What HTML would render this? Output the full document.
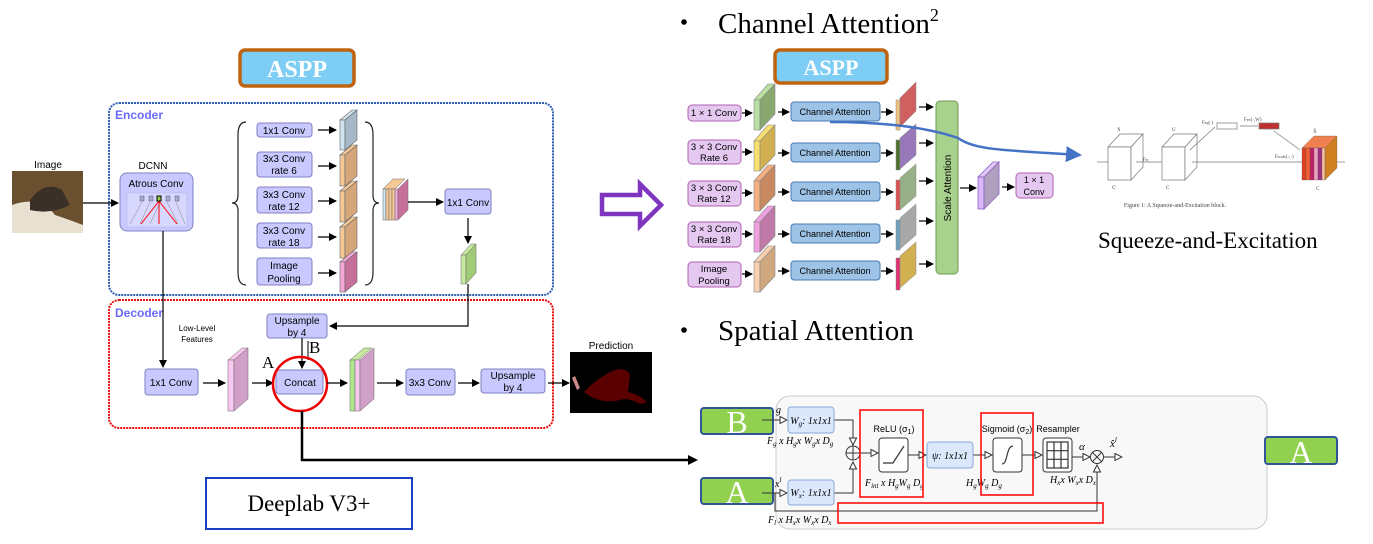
<!DOCTYPE html>
<html><head><meta charset="utf-8"><style>
html,body{margin:0;padding:0;background:#fff;}
svg{display:block;}
.s{font-family:"Liberation Sans",sans-serif;}
.r{font-family:"Liberation Serif",serif;}
</style></head><body>
<svg width="1373" height="544" viewBox="0 0 1373 544" xmlns="http://www.w3.org/2000/svg">
<defs>
<marker id="ar" markerWidth="8" markerHeight="8" refX="7" refY="4" orient="auto" markerUnits="userSpaceOnUse"><path d="M0,0 L8,4 L0,8z" fill="#000"/></marker>
<marker id="ab" markerWidth="16" markerHeight="16" refX="14" refY="8" orient="auto" markerUnits="userSpaceOnUse"><path d="M0,0 L16,8 L0,16z" fill="#4472c4"/></marker>
<marker id="ao" markerWidth="9" markerHeight="9" refX="8" refY="4.5" orient="auto" markerUnits="userSpaceOnUse"><path d="M1,1 L8,4.5 L1,8z" fill="#fff" stroke="#333" stroke-width="1"/></marker>
</defs>

<rect x="240" y="50" width="114" height="36" rx="5" fill="#7dcdf5" stroke="#c0630f" stroke-width="3.5"/>
<text x="297" y="77" text-anchor="middle" class="r" font-size="24" font-weight="bold" fill="#fff">ASPP</text>

<rect x="109" y="103" width="444" height="192" rx="10" fill="none" stroke="#2f5fb0" stroke-width="2" stroke-dasharray="2,1"/>
<text x="115" y="119" class="s" font-size="12" font-weight="bold" fill="#6a6aff">Encoder</text>
<rect x="109" y="300" width="444" height="128" rx="10" fill="none" stroke="#e81010" stroke-width="2" stroke-dasharray="2,1"/>
<text x="115" y="317" class="s" font-size="12" font-weight="bold" fill="#6a6aff">Decoder</text>

<text x="48" y="168" text-anchor="middle" class="s" font-size="10">Image</text>
<rect x="12" y="171" width="71" height="62" fill="#6b5030"/>
<path d="M12,205 Q40,195 55,215 Q70,220 83,225 L83,233 L12,233z" fill="#e8e0d0"/>
<path d="M30,200 Q45,180 62,190 L70,205 Q50,215 30,210z" fill="#3a3028"/>
<line x1="83" y1="203" x2="118" y2="203" stroke="#000" stroke-width="1.3" marker-end="url(#ar)"/>
<text x="153" y="169" text-anchor="middle" class="s" font-size="10">DCNN</text>
<rect x="120" y="173" width="73" height="58" rx="7" fill="#c9c9ff" stroke="#8080c0"/>
<text x="156" y="187" text-anchor="middle" class="s" font-size="10">Atrous Conv</text>
<rect x="127" y="193" width="60" height="34" fill="#d8d8ff" stroke="#b0b0e0" stroke-width="0.5"/>
<g stroke="#999" stroke-width="0.6">
<line x1="142" y1="202" x2="130" y2="224"/><line x1="150" y1="202" x2="140" y2="224"/><line x1="160" y1="202" x2="150" y2="224"/><line x1="167" y1="202" x2="178" y2="224"/><line x1="176" y1="202" x2="185" y2="224"/>
</g>
<g stroke="#f00" stroke-width="1"><line x1="159" y1="201" x2="141" y2="224"/><line x1="159" y1="201" x2="159" y2="224"/><line x1="159" y1="201" x2="177" y2="224"/></g>
<g fill="#aac" stroke="#558" stroke-width="0.5"><rect x="140" y="196" width="4" height="5"/><rect x="149" y="196" width="4" height="5"/><rect x="166" y="196" width="4" height="5"/><rect x="175" y="196" width="4" height="5"/></g>
<rect x="157" y="196" width="4" height="5" fill="#9c4" stroke="#000"/>

<path d="M246,122 Q238,122 238,135 L238,195 Q238,203 232,203 Q238,203 238,211 L238,272 Q238,285 246,285" fill="none" stroke="#222" stroke-width="1.2"/>
<path d="M365,122 Q373,122 373,135 L373,195 Q373,203 379,203 Q373,203 373,211 L373,272 Q373,285 365,285" fill="none" stroke="#222" stroke-width="1.2"/>
<g class="s" font-size="10" text-anchor="middle" fill="#000">
<rect x="257" y="123" width="55" height="14" rx="3" fill="#c9c9ff" stroke="#8080c0"/><text x="284" y="134">1x1 Conv</text>
<rect x="257" y="152" width="55" height="25" rx="3" fill="#c9c9ff" stroke="#8080c0"/><text x="284" y="162">3x3 Conv</text><text x="284" y="174">rate 6</text>
<rect x="257" y="187" width="55" height="26" rx="3" fill="#c9c9ff" stroke="#8080c0"/><text x="284" y="198">3x3 Conv</text><text x="284" y="210">rate 12</text>
<rect x="257" y="223" width="55" height="25" rx="3" fill="#c9c9ff" stroke="#8080c0"/><text x="284" y="234">3x3 Conv</text><text x="284" y="246">rate 18</text>
<rect x="257" y="258" width="55" height="27" rx="3" fill="#c9c9ff" stroke="#8080c0"/><text x="284" y="269">Image</text><text x="284" y="282">Pooling</text>
</g>
<g stroke="#000" stroke-width="1.2">
<line x1="318" y1="130" x2="336" y2="130" marker-end="url(#ar)"/>
<line x1="318" y1="166" x2="336" y2="166" marker-end="url(#ar)"/>
<line x1="318" y1="201" x2="336" y2="201" marker-end="url(#ar)"/>
<line x1="318" y1="237" x2="336" y2="237" marker-end="url(#ar)"/>
<line x1="318" y1="273" x2="336" y2="273" marker-end="url(#ar)"/>
</g>
<g stroke="#666" stroke-width="0.6">
<path d="M340,120 L352,110 L357,110 L345,120z" fill="#cfe3f0"/><rect x="340" y="120" width="5" height="30" fill="#cfe3f0"/><path d="M345,120 L357,110 L357,140 L345,150z" fill="#a7b8c8"/>
<path d="M340,155 L352,145 L357,145 L345,155z" fill="#f5c896"/><rect x="340" y="155" width="5" height="31" fill="#f5c896"/><path d="M345,155 L357,145 L357,176 L345,186z" fill="#d4a67a"/>
<path d="M340,191 L352,181 L357,181 L345,191z" fill="#f5c896"/><rect x="340" y="191" width="5" height="31" fill="#f5c896"/><path d="M345,191 L357,181 L357,212 L345,222z" fill="#d4a67a"/>
<path d="M340,227 L352,217 L357,217 L345,227z" fill="#f5c896"/><rect x="340" y="227" width="5" height="31" fill="#f5c896"/><path d="M345,227 L357,217 L357,248 L345,258z" fill="#d4a67a"/>
<path d="M340,262 L352,252 L357,252 L345,262z" fill="#f4a8d8"/><rect x="340" y="262" width="5" height="30" fill="#f4a8d8"/><path d="M345,262 L357,252 L357,282 L345,292z" fill="#c8709c"/>
</g>
<g stroke="#666" stroke-width="0.5">
<path d="M383,189 L393,179 L405,179 L395,189z" fill="#f5c896"/>
<rect x="383" y="189" width="3" height="31" fill="#cfe3f0"/><rect x="386" y="189" width="3" height="31" fill="#f5c896"/><rect x="389" y="189" width="3" height="31" fill="#f5c896"/><rect x="392" y="189" width="3" height="31" fill="#f5c896"/><rect x="395" y="189" width="3" height="31" fill="#f4a8d8"/>
<path d="M398,189 L408,179 L408,210 L398,220z" fill="#c8709c"/>
</g>
<line x1="408" y1="202" x2="443" y2="202" stroke="#000" stroke-width="1.2" marker-end="url(#ar)"/>
<rect x="445" y="189" width="46" height="25" rx="3" fill="#c9c9ff" stroke="#8080c0"/>
<text x="468" y="206" text-anchor="middle" class="s" font-size="10">1x1 Conv</text>
<line x1="468" y1="218" x2="468" y2="243" stroke="#000" stroke-width="1.2" marker-end="url(#ar)"/>
<g stroke="#666" stroke-width="0.5"><path d="M461,255 L471,244 L476,244 L466,255z" fill="#c8e8a0"/><rect x="461" y="255" width="5" height="29" fill="#c8e8a0"/><path d="M466,255 L476,244 L476,273 L466,284z" fill="#a0cc78"/></g>
<polyline points="468,284 468,326 330,326" fill="none" stroke="#000" stroke-width="1.2" marker-end="url(#ar)"/>
<line x1="163" y1="231" x2="163" y2="367" stroke="#000" stroke-width="1.2" marker-end="url(#ar)"/>
<text x="197" y="331" text-anchor="middle" class="s" font-size="8">Low-Level</text>
<text x="197" y="342" text-anchor="middle" class="s" font-size="8">Features</text>
<rect x="267" y="314" width="60" height="24" rx="3" fill="#c9c9ff" stroke="#8080c0"/>
<text x="297" y="324" text-anchor="middle" class="s" font-size="10">Upsample</text>
<text x="297" y="336" text-anchor="middle" class="s" font-size="10">by 4</text>
<line x1="302" y1="338" x2="302" y2="368" stroke="#000" stroke-width="1.2" marker-end="url(#ar)"/>
<line x1="308" y1="341" x2="308" y2="360" stroke="#000" stroke-width="1"/>
<rect x="145" y="369" width="53" height="26" rx="3" fill="#c9c9ff" stroke="#8080c0"/>
<text x="171" y="386" text-anchor="middle" class="s" font-size="10">1x1 Conv</text>
<line x1="203" y1="383" x2="225" y2="383" stroke="#000" stroke-width="1.2" marker-end="url(#ar)"/>
<g stroke="#666" stroke-width="0.5"><path d="M228,360 L242,348 L248,348 L234,360z" fill="#f8c8f0"/><rect x="228" y="360" width="6" height="51" fill="#f8c8f0"/><path d="M234,360 L248,348 L248,399 L234,411z" fill="#d0a0c8"/></g>
<line x1="252" y1="383" x2="273" y2="383" stroke="#000" stroke-width="1.2" marker-end="url(#ar)"/>
<text x="262" y="368" class="r" font-size="17">A</text>
<text x="309" y="353" class="r" font-size="17">B</text>
<rect x="276" y="370" width="47" height="24" rx="3" fill="#c9c9ff" stroke="#8080c0"/>
<text x="300" y="386" text-anchor="middle" class="s" font-size="10">Concat</text>
<circle cx="300" cy="384" r="27" fill="none" stroke="#e00" stroke-width="2.5"/>
<line x1="327" y1="383" x2="347" y2="383" stroke="#000" stroke-width="1.2" marker-end="url(#ar)"/>
<g stroke="#666" stroke-width="0.5"><path d="M350,360 L364,348 L372,348 L358,360z" fill="#c8e8a0"/><rect x="350" y="360" width="5" height="51" fill="#b0e890"/><rect x="355" y="360" width="5" height="51" fill="#f8c8f0"/><path d="M360,360 L374,348 L374,399 L360,411z" fill="#d0a0c8"/></g>
<line x1="377" y1="383" x2="403" y2="383" stroke="#000" stroke-width="1.2" marker-end="url(#ar)"/>
<rect x="406" y="369" width="49" height="26" rx="3" fill="#c9c9ff" stroke="#8080c0"/>
<text x="430" y="386" text-anchor="middle" class="s" font-size="10">3x3 Conv</text>
<line x1="458" y1="383" x2="479" y2="383" stroke="#000" stroke-width="1.2" marker-end="url(#ar)"/>
<rect x="481" y="369" width="64" height="24" rx="3" fill="#c9c9ff" stroke="#8080c0"/>
<text x="513" y="379" text-anchor="middle" class="s" font-size="10">Upsample</text>
<text x="513" y="391" text-anchor="middle" class="s" font-size="10">by 4</text>
<line x1="548" y1="383" x2="569" y2="383" stroke="#000" stroke-width="1.2" marker-end="url(#ar)"/>
<text x="611" y="349" text-anchor="middle" class="s" font-size="10">Prediction</text>
<rect x="570" y="352" width="82" height="61" fill="#000"/>
<path d="M584,392 Q595,380 610,372 Q625,365 630,375 L628,392 Q640,395 647,402 L640,404 Q628,397 620,400 Q600,405 584,392z" fill="#5a0000"/>
<path d="M572,378 L575,376 L580,388 L577,390z" fill="#c88"/>
<polyline points="302,411 302,460 690,460" fill="none" stroke="#000" stroke-width="2.5"/>
<path d="M688,455 L698,460 L688,465z" fill="#000"/>
<rect x="206" y="478" width="206" height="51" fill="#fff" stroke="#1a3fc0" stroke-width="2"/>
<text x="309" y="511" text-anchor="middle" class="r" font-size="23">Deeplab V3+</text>

<path d="M602,195 L640,195 L640,184 L661,205 L640,226 L640,214 L602,214z" fill="#fff" stroke="#7f35c0" stroke-width="4.5" stroke-linejoin="miter"/>

<circle cx="684" cy="22" r="2.8" fill="#000"/>
<text x="718" y="33" class="r" font-size="29">Channel Attention<tspan font-size="18" dy="-12">2</tspan></text>
<rect x="775" y="50" width="112" height="33" rx="5" fill="#7dcdf5" stroke="#c0630f" stroke-width="3.5"/>
<text x="831" y="75" text-anchor="middle" class="r" font-size="22" font-weight="bold" fill="#fff">ASPP</text>
<g class="s" font-size="9.5" text-anchor="middle" fill="#000">
<rect x="688" y="105" width="53" height="16" rx="4" fill="#e4c8f0" stroke="#b060b0"/><text x="714" y="116">1 × 1 Conv</text>
<rect x="688" y="140" width="53" height="24" rx="4" fill="#e4c8f0" stroke="#b060b0"/><text x="714" y="150">3 × 3 Conv</text><text x="714" y="161">Rate 6</text>
<rect x="688" y="181" width="53" height="25" rx="4" fill="#e4c8f0" stroke="#b060b0"/><text x="714" y="191">3 × 3 Conv</text><text x="714" y="202">Rate 12</text>
<rect x="688" y="222" width="53" height="25" rx="4" fill="#e4c8f0" stroke="#b060b0"/><text x="714" y="232">3 × 3 Conv</text><text x="714" y="243">Rate 18</text>
<rect x="688" y="262" width="53" height="25" rx="4" fill="#e4c8f0" stroke="#b060b0"/><text x="714" y="272">Image</text><text x="714" y="284">Pooling</text>
</g>
<g stroke="#888" stroke-width="0.6">
<path d="M754,100 L768,84 L775,84 L760,100z" fill="#b8e0a0"/><rect x="754" y="100" width="6" height="30" fill="#b8e0a0"/><path d="M760,100 L775,84 L775,114 L760,130z" fill="#88a870"/>
<path d="M754,141 L768,125 L775,125 L760,141z" fill="#f8e070"/><rect x="754" y="141" width="6" height="30" fill="#f8e070"/><path d="M760,141 L775,125 L775,155 L760,171z" fill="#d0b050"/>
<path d="M754,181 L768,165 L775,165 L760,181z" fill="#f8b080"/><rect x="754" y="181" width="6" height="30" fill="#f8b080"/><path d="M760,181 L775,165 L775,195 L760,211z" fill="#c88860"/>
<path d="M754,222 L768,206 L775,206 L760,222z" fill="#f0a0e0"/><rect x="754" y="222" width="6" height="30" fill="#f0a0e0"/><path d="M760,222 L775,206 L775,236 L760,252z" fill="#c078a8"/>
<path d="M754,262 L768,246 L775,246 L760,262z" fill="#f8d0b0"/><rect x="754" y="262" width="6" height="30" fill="#f8d0b0"/><path d="M760,262 L775,246 L775,276 L760,292z" fill="#d0a880"/>
</g>
<g stroke="#000" stroke-width="1.2">
<line x1="742" y1="113" x2="752" y2="113" marker-end="url(#ar)"/><line x1="742" y1="152" x2="752" y2="152" marker-end="url(#ar)"/><line x1="742" y1="193" x2="752" y2="193" marker-end="url(#ar)"/><line x1="742" y1="234" x2="752" y2="234" marker-end="url(#ar)"/><line x1="742" y1="274" x2="752" y2="274" marker-end="url(#ar)"/>
<line x1="778" y1="112" x2="789" y2="112" marker-end="url(#ar)"/><line x1="778" y1="153" x2="789" y2="153" marker-end="url(#ar)"/><line x1="778" y1="192" x2="789" y2="192" marker-end="url(#ar)"/><line x1="778" y1="234" x2="789" y2="234" marker-end="url(#ar)"/><line x1="778" y1="271" x2="789" y2="271" marker-end="url(#ar)"/>
<line x1="881" y1="112" x2="893" y2="112" marker-end="url(#ar)"/><line x1="881" y1="153" x2="893" y2="153" marker-end="url(#ar)"/><line x1="881" y1="192" x2="893" y2="192" marker-end="url(#ar)"/><line x1="881" y1="234" x2="893" y2="234" marker-end="url(#ar)"/><line x1="881" y1="271" x2="893" y2="271" marker-end="url(#ar)"/>
<line x1="919" y1="107" x2="933" y2="107" marker-end="url(#ar)"/><line x1="919" y1="143" x2="933" y2="143" marker-end="url(#ar)"/><line x1="919" y1="181" x2="933" y2="181" marker-end="url(#ar)"/><line x1="919" y1="221" x2="933" y2="221" marker-end="url(#ar)"/><line x1="919" y1="264" x2="933" y2="264" marker-end="url(#ar)"/>
<line x1="960" y1="188" x2="976" y2="188" marker-end="url(#ar)"/><line x1="1002" y1="187" x2="1014" y2="187" marker-end="url(#ar)"/>
</g>
<g class="s" font-size="9" text-anchor="middle">
<rect x="791" y="102" width="89" height="19" rx="3" fill="#9dc3e6" stroke="#4a7ab0"/><text x="835" y="115">Channel Attention</text>
<rect x="791" y="143" width="89" height="19" rx="3" fill="#9dc3e6" stroke="#4a7ab0"/><text x="835" y="156">Channel Attention</text>
<rect x="791" y="182" width="89" height="19" rx="3" fill="#9dc3e6" stroke="#4a7ab0"/><text x="835" y="195">Channel Attention</text>
<rect x="791" y="224" width="89" height="19" rx="3" fill="#9dc3e6" stroke="#4a7ab0"/><text x="835" y="237">Channel Attention</text>
<rect x="791" y="261" width="89" height="19" rx="3" fill="#9dc3e6" stroke="#4a7ab0"/><text x="835" y="274">Channel Attention</text>
</g>
<g stroke="#888" stroke-width="0.5">
<rect x="896" y="100" width="4" height="30" fill="#f0c080"/><path d="M900,98 L916,82 L916,111 L900,127z" fill="#d06060"/>
<rect x="896" y="140" width="4" height="30" fill="#507030"/><path d="M900,138 L916,124 L916,155 L900,169z" fill="#9878b8"/>
<rect x="896" y="180" width="4" height="30" fill="#e05050"/><path d="M900,178 L916,164 L916,196 L900,210z" fill="#98b088"/>
<rect x="896" y="220" width="4" height="30" fill="#70a0c0"/><path d="M900,218 L916,204 L916,235 L900,249z" fill="#a8a8a8"/>
<rect x="896" y="258" width="4" height="32" fill="#e03070"/><path d="M900,256 L916,242 L916,274 L900,288z" fill="#d0b050"/>
</g>
<rect x="936" y="101" width="22" height="173" rx="4" fill="#a9d18e" stroke="#6a9a50"/>
<text transform="translate(951,188) rotate(-90)" text-anchor="middle" class="s" font-size="10">Scale Attention</text>
<g stroke="#9060c0" stroke-width="0.8"><path d="M978,177 L993,162 L999,162 L984,177z" fill="#e0c8f8"/><rect x="978" y="177" width="6" height="32" fill="#d8b8f8"/><path d="M984,177 L999,162 L999,194 L984,209z" fill="#b0a0c0"/></g>
<rect x="1016" y="173" width="37" height="25" rx="4" fill="#e4c8f0" stroke="#b060b0"/>
<text x="1034" y="183" text-anchor="middle" class="s" font-size="9">1 × 1</text>
<text x="1034" y="195" text-anchor="middle" class="s" font-size="9">Conv</text>
<path d="M830,122 C870,122 920,125 958,138 C975,150 1000,150 1080,155" fill="none" stroke="#4472c4" stroke-width="2.5" marker-end="url(#ab)"/>

<g stroke="#777" stroke-width="0.7" fill="#fff">
<line x1="1097" y1="162" x2="1108" y2="162"/>
<path d="M1108,147 L1120,134 L1143,134 L1131,147z"/><rect x="1108" y="147" width="23" height="33"/><path d="M1131,147 L1143,134 L1143,167 L1131,180z"/>
<line x1="1136" y1="162" x2="1162" y2="162"/>
<path d="M1162,147 L1174,134 L1197,134 L1185,147z"/><rect x="1162" y="147" width="23" height="33"/><path d="M1185,147 L1197,134 L1197,167 L1185,180z"/>
<line x1="1192" y1="162" x2="1302" y2="162"/>
<line x1="1190" y1="150" x2="1215" y2="127"/>
<rect x="1217" y="123" width="20" height="6"/>
<line x1="1240" y1="126" x2="1258" y2="126"/>
<rect x="1259" y="123" width="20" height="6" fill="#c03030"/>
<line x1="1274" y1="131" x2="1300" y2="150"/>
<line x1="1334" y1="162" x2="1345" y2="162"/>
</g>
<g stroke="#555" stroke-width="0.3">
<path d="M1302,148 L1314,136 L1337,136 L1325,148z" fill="#f08050"/>
<rect x="1302" y="148" width="4" height="32" fill="#e04020"/><rect x="1306" y="148" width="4" height="32" fill="#f06030"/><rect x="1310" y="148" width="4" height="32" fill="#c02060"/><rect x="1314" y="148" width="4" height="32" fill="#f0a0c0"/><rect x="1318" y="148" width="4" height="32" fill="#a03080"/><rect x="1322" y="148" width="3" height="32" fill="#f8c0a0"/>
<path d="M1325,148 L1337,136 L1337,168 L1325,180z" fill="#d08020"/>
</g>
<g class="r" font-size="5" fill="#444"><text x="1117" y="131">X</text><text x="1172" y="131">U</text><text x="1143" y="161">F<tspan font-size="4">tr</tspan></text><text x="1313" y="133">X̃</text><text x="1275" y="158">F<tspan font-size="4">scale</tspan>(·,·)</text><text x="1112" y="189">C'</text><text x="1166" y="189">C</text><text x="1316" y="190">C</text><text x="1202" y="124">F<tspan font-size="4">sq</tspan>(·)</text><text x="1244" y="121">F<tspan font-size="4">ex</tspan>(·,W)</text></g>
<text x="1175" y="207" text-anchor="middle" class="r" font-size="6" fill="#444">Figure 1: A Squeeze-and-Excitation block.</text>
<text x="1098" y="248" class="r" font-size="23">Squeeze-and-Excitation</text>

<circle cx="684" cy="330" r="2.8" fill="#000"/>
<text x="718" y="340" class="r" font-size="29">Spatial Attention</text>

<rect x="776" y="396" width="491" height="133" rx="14" fill="#f8f8f8" stroke="#ccc"/>
<g stroke="#2f5597" stroke-width="2" fill="#92d050">
<rect x="701" y="408" width="72" height="26" rx="3"/><rect x="701" y="478" width="72" height="26" rx="3"/><rect x="1265" y="437" width="72" height="27" rx="3"/>
</g>
<g class="r" font-size="32" fill="#fff" text-anchor="middle"><text x="737" y="433">B</text><text x="737" y="503">A</text><text x="1301" y="463">A</text></g>
<g stroke="#333" stroke-width="1" fill="none">
<line x1="762" y1="420" x2="787" y2="420" marker-end="url(#ao)"/>
<line x1="762" y1="493" x2="787" y2="493" marker-end="url(#ao)"/>
<polyline points="834,420 853,420 853,445" marker-end="url(#ao)"/>
<polyline points="834,493 853,493 853,462" marker-end="url(#ao)"/>
<circle cx="853" cy="453" r="7"/><line x1="846" y1="453" x2="860" y2="453"/><line x1="853" y1="446" x2="853" y2="460"/>
<line x1="860" y1="453" x2="878" y2="453" marker-end="url(#ao)"/>
<line x1="908" y1="455" x2="926" y2="455" marker-end="url(#ao)"/>
<line x1="973" y1="455" x2="992" y2="455" marker-end="url(#ao)"/>
<line x1="1022" y1="455" x2="1042" y2="455" marker-end="url(#ao)"/>
<line x1="1072" y1="457" x2="1090" y2="457" marker-end="url(#ao)"/>
<circle cx="1097" cy="457" r="6.5"/><line x1="1092.5" y1="452.5" x2="1101.5" y2="461.5"/><line x1="1101.5" y1="452.5" x2="1092.5" y2="461.5"/>
<line x1="1104" y1="457" x2="1122" y2="457" marker-end="url(#ao)"/>
<polyline points="775,493 775,511 1097,511 1097,465" marker-end="url(#ao)"/>
</g>
<rect x="788" y="407" width="46" height="26" rx="3" fill="#dbe7fb" stroke="#8aa8d8"/>
<rect x="788" y="480" width="46" height="25" rx="3" fill="#dbe7fb" stroke="#8aa8d8"/>
<rect x="927" y="442" width="46" height="26" rx="3" fill="#dbe7fb" stroke="#8aa8d8"/>
<g class="r" font-style="italic" font-size="10" text-anchor="middle">
<text x="811" y="424">W<tspan font-size="7" dy="2">g</tspan><tspan dy="-2">: 1x1x1</tspan></text>
<text x="811" y="496">W<tspan font-size="7" dy="2">x</tspan><tspan dy="-2">: 1x1x1</tspan></text>
<text x="950" y="459">ψ: 1x1x1</text>
</g>
<g class="r" font-style="italic" font-size="10" text-anchor="start">
<text x="776" y="413">g</text>
<text x="775" y="487">x<tspan font-size="7" dy="-5">l</tspan></text>
<text x="767" y="444">F<tspan font-size="7" dy="2">g</tspan><tspan dy="-2"> x H</tspan><tspan font-size="7" dy="2">g</tspan><tspan dy="-2">x W</tspan><tspan font-size="7" dy="2">g</tspan><tspan dy="-2">x D</tspan><tspan font-size="7" dy="2">g</tspan></text>
<text x="768" y="523">F<tspan font-size="7" dy="2">l</tspan><tspan dy="-2"> x H</tspan><tspan font-size="7" dy="2">x</tspan><tspan dy="-2">x W</tspan><tspan font-size="7" dy="2">x</tspan><tspan dy="-2">x D</tspan><tspan font-size="7" dy="2">x</tspan></text>
<text x="865" y="486">F<tspan font-size="7" dy="2">int</tspan><tspan dy="-2"> x H</tspan><tspan font-size="7" dy="2">g</tspan><tspan dy="-2">W</tspan><tspan font-size="7" dy="2">g</tspan><tspan dy="-2"> D</tspan><tspan font-size="7" dy="2">g</tspan></text>
<text x="966" y="486">H<tspan font-size="7" dy="2">g</tspan><tspan dy="-2">W</tspan><tspan font-size="7" dy="2">g</tspan><tspan dy="-2"> D</tspan><tspan font-size="7" dy="2">g</tspan></text>
<text x="1050" y="483">H<tspan font-size="7" dy="2">x</tspan><tspan dy="-2">x W</tspan><tspan font-size="7" dy="2">x</tspan><tspan dy="-2">x D</tspan><tspan font-size="7" dy="2">x</tspan></text>
<text x="1079" y="450" font-size="11">α</text>
<text x="1110" y="447" font-size="11">x̂<tspan font-size="7" dy="-5">l</tspan></text>
</g>
<g class="s" font-size="9" text-anchor="middle"><text x="894" y="432">ReLU (σ<tspan font-size="7" dy="2">1</tspan><tspan dy="-2">)</tspan></text><text x="1007" y="432">Sigmoid (σ<tspan font-size="7" dy="2">2</tspan><tspan dy="-2">)</tspan></text><text x="1058" y="432">Resampler</text></g>
<rect x="879" y="438" width="29" height="34" rx="3" fill="#fff" stroke="#333"/>
<polyline points="883,463 893,463 904,446" fill="none" stroke="#333" stroke-width="1.2"/>
<rect x="993" y="438" width="29" height="34" rx="3" fill="#fff" stroke="#333"/>
<path d="M1002,464 C1008,464 1006,446 1013,446" fill="none" stroke="#333" stroke-width="1.2"/>
<rect x="1043" y="438" width="29" height="34" rx="3" fill="#fff" stroke="#333"/>
<g stroke="#333" stroke-width="1.2"><rect x="1047" y="442" width="21" height="26" fill="none"/><line x1="1054" y1="442" x2="1054" y2="468"/><line x1="1061" y1="442" x2="1061" y2="468"/><line x1="1047" y1="450.7" x2="1068" y2="450.7"/><line x1="1047" y1="459.3" x2="1068" y2="459.3"/></g>
<g fill="none" stroke="#f00" stroke-width="1.5">
<rect x="860" y="410" width="63" height="87"/><rect x="981" y="413" width="52" height="82"/><rect x="838" y="503" width="265" height="20"/>
</g>
</svg>
</body></html>
